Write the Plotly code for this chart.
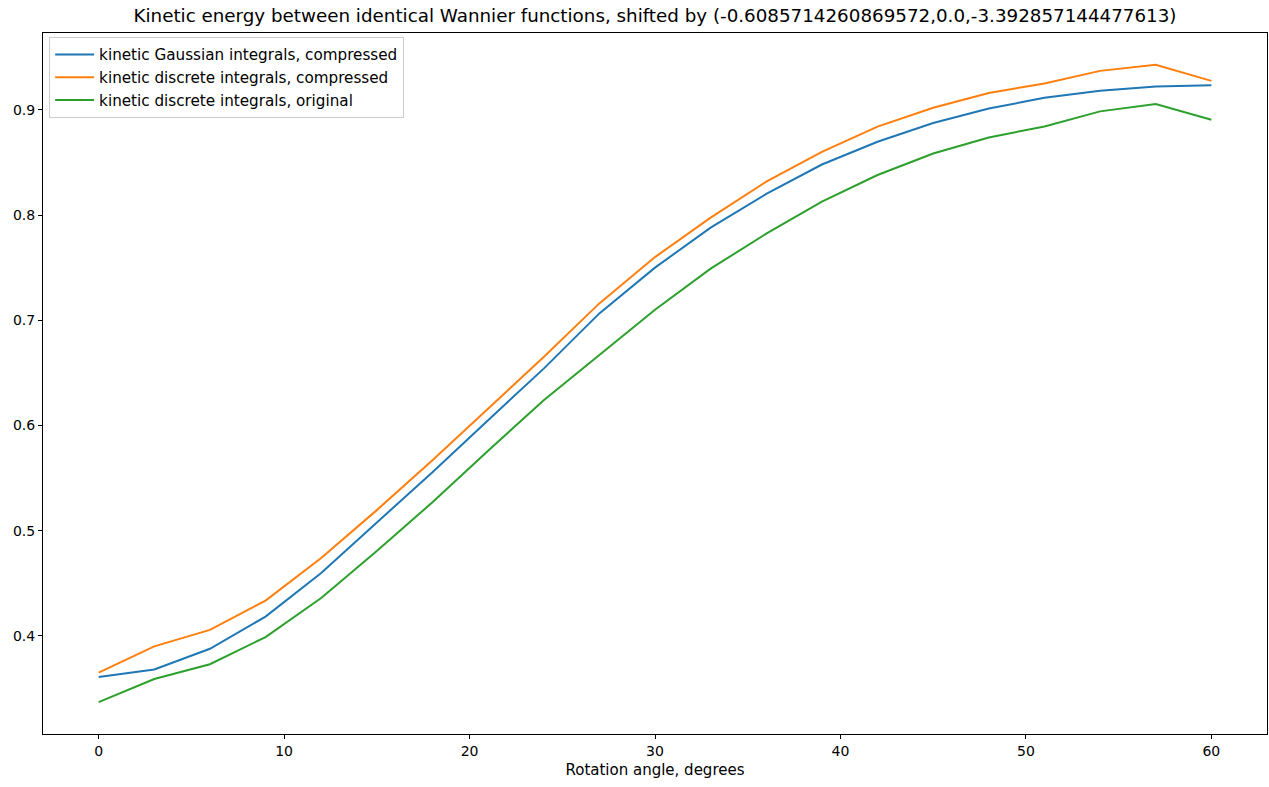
import plotly.graph_objects as go

angles = [0, 3, 6, 9, 12, 15, 18, 21, 24, 27, 30, 33, 36, 39, 42, 45, 48, 51, 54, 57, 60]
gauss_compressed = [0.3608, 0.368, 0.3877, 0.4183, 0.4598, 0.508, 0.5556, 0.605, 0.654, 0.7065, 0.750,
                    0.788, 0.820, 0.848, 0.8696, 0.8874, 0.9012, 0.9114, 0.918, 0.9222, 0.9234]
discrete_compressed = [0.365, 0.390, 0.4057, 0.4335, 0.474, 0.5195, 0.567, 0.616, 0.665, 0.716, 0.760,
                       0.7975, 0.8317, 0.860, 0.884, 0.902, 0.916, 0.925, 0.937, 0.9427, 0.9275]
discrete_original = [0.337, 0.359, 0.373, 0.3988, 0.436, 0.4806, 0.527, 0.576, 0.624, 0.6667, 0.710,
                     0.749, 0.7823, 0.8127, 0.838, 0.8585, 0.8737, 0.8842, 0.8985, 0.9054, 0.8905]

names = ["kinetic Gaussian integrals, compressed",
         "kinetic discrete integrals, compressed",
         "kinetic discrete integrals, original"]
colors = ["#1f77b4", "#ff7f0e", "#2ca02c"]
title = "Kinetic energy between identical Wannier functions, shifted by (-0.6085714260869572,0.0,-3.392857144477613)"
xlabel = "Rotation angle, degrees"

fig = go.Figure()
for ys, n, c in zip([gauss_compressed, discrete_compressed, discrete_original], names, colors):
    fig.add_trace(go.Scatter(x=angles, y=ys, mode="lines", name=n,
                             line=dict(color=c, width=2)))

font = "DejaVu Sans"
fig.update_layout(
    width=1269, height=787,
    margin=dict(l=43, r=2, t=33, b=53),
    plot_bgcolor="white", paper_bgcolor="white",
    font=dict(family=font, size=14, color="black"),
    title=dict(text=title, xref="paper", x=0.5, xanchor="center", yref="container",
               y=1 - 16 / 787, yanchor="middle",
               font=dict(family=font, size=18.3, color="black")),
    showlegend=True,
    legend=dict(x=0.005, y=1 - 4 / 701, xanchor="left", yanchor="top",
                bgcolor="rgba(255,255,255,0.8)", bordercolor="#cccccc", borderwidth=1,
                font=dict(family=font, size=15.2, color="black"),
                itemwidth=39, tracegroupgap=0),
    xaxis=dict(range=[-3, 63], tickvals=[0, 10, 20, 30, 40, 50, 60],
               showgrid=False, zeroline=False, showline=True, linecolor="black", linewidth=1,
               mirror=True, ticks="outside", ticklen=4, tickcolor="black",
               tickfont=dict(family=font, size=14),
               title=dict(text=xlabel, font=dict(family=font, size=15), standoff=6)),
    yaxis=dict(range=[0.3067, 0.973], tickvals=[0.4, 0.5, 0.6, 0.7, 0.8, 0.9],
               tickformat=".1f", tickfont=dict(family=font, size=14),
               showgrid=False, zeroline=False, showline=True, linecolor="black", linewidth=1,
               mirror=True, ticks="outside", ticklen=4, tickcolor="black"),
)

fig.write_html("out.html", config={"responsive": False, "displayModeBar": False},
               post_script="document.body.style.margin='0';document.body.style.overflow='hidden';")
